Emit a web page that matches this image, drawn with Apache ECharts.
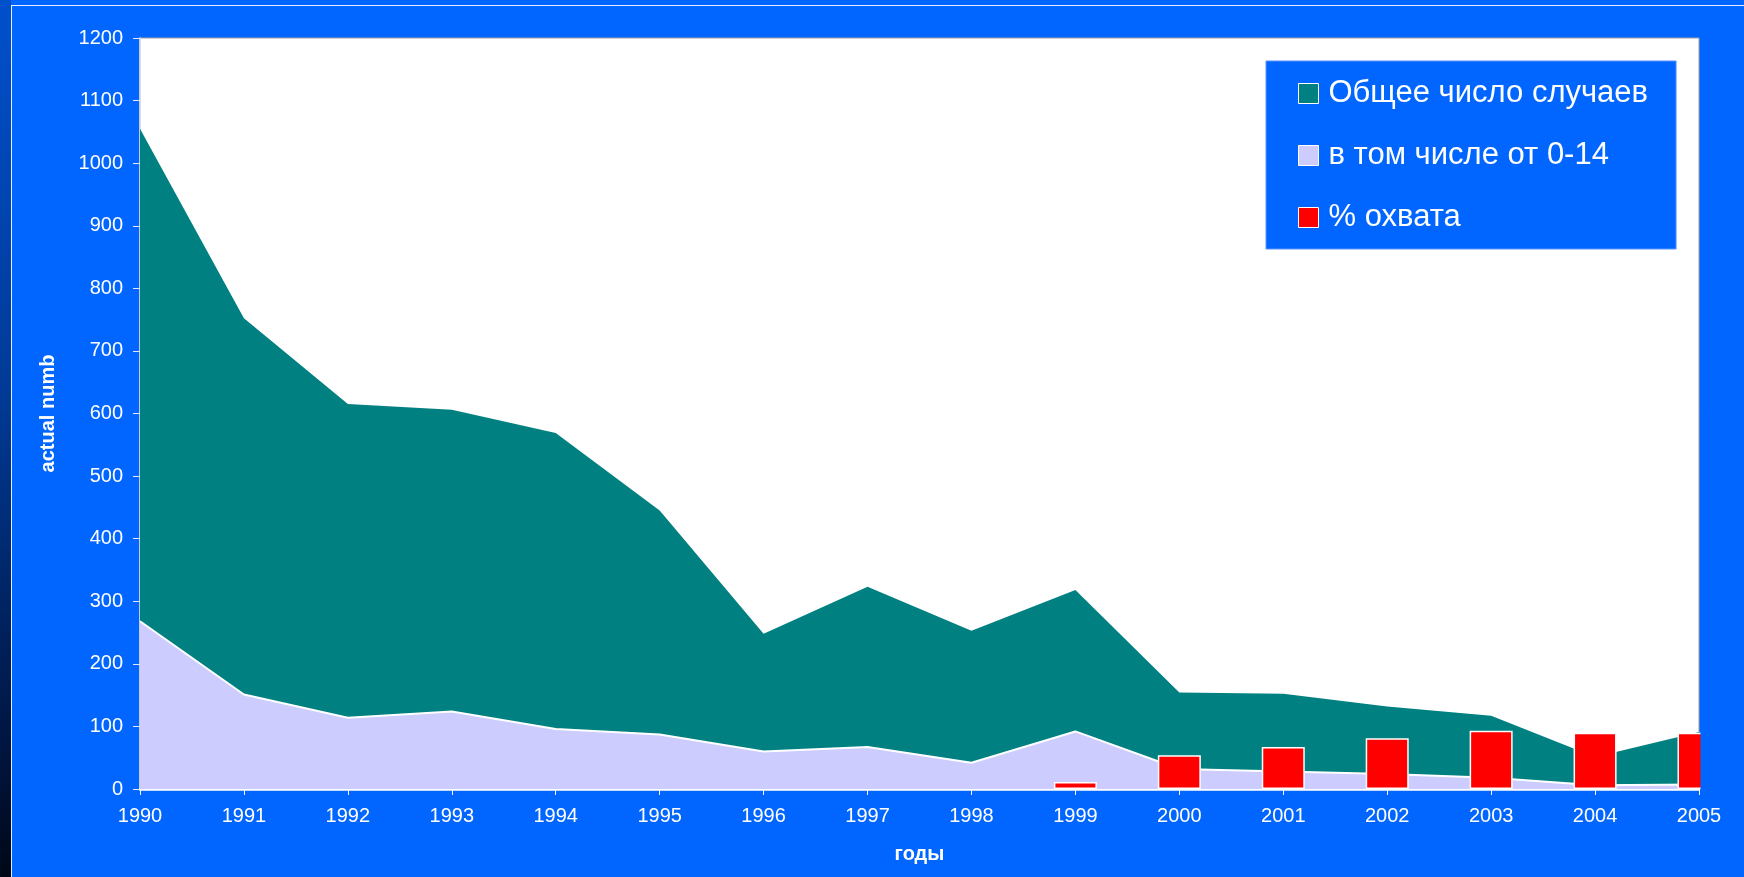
<!DOCTYPE html>
<html>
<head>
<meta charset="utf-8">
<title>Заболеваемость 1990-2005</title>
<script src="https://cdn.jsdelivr.net/npm/echarts/dist/echarts.min.js"></script>
<style>
  html, body { margin: 0; padding: 0; }
  body { width: 1744px; height: 877px; background: #0066ff; position: relative; overflow: hidden; }
  /* тёмная полоса слева, как на слайде */
  #strip { position: absolute; left: 0; top: 0; width: 11px; height: 877px;
    background: linear-gradient(to bottom, #0050cc 0%, #003a96 45%, #001540 85%, #000818 100%); }
  #frame { position: absolute; left: 11px; top: 5px; right: 0; bottom: 0;
    border-left: 1.5px solid #e8eeff; border-top: 1.5px solid #e8eeff; }
  #chart { position: absolute; left: 0; top: 0; width: 1744px; height: 877px; }
</style>
</head>
<body>
<div id="strip"></div>
<div id="frame"></div>
<div id="chart"></div>
<script>
// годы
const years = ['1990', '1991', '1992', '1993', '1994', '1995', '1996', '1997',
  '1998', '1999', '2000', '2001', '2002', '2003', '2004', '2005']
// общее число случаев
const totalCases = [1055, 752, 615, 606, 569, 445, 248, 323, 253, 318, 154, 152, 132, 117, 51, 91]
// в том числе дети 0-14
const children = [268, 151, 114, 124, 96, 87, 60, 67, 42, 92, 32, 28, 24, 18, 6, 7]
// % охвата (до 1999 нет данных)
const coverage = [null, null, null, null, null, null, null, null, null, 11, 54, 67, 81, 93, 90, 90]
const seriesNames = ['Общее число случаев', 'в том числе от 0-14', '% охвата']
const colors = ['#008080', '#ccccff', '#ff0000']

const font = "'Liberation Sans', Arial, sans-serif"

const chart = echarts.init(document.getElementById('chart'))

const option = {
  backgroundColor: 'transparent',
  textStyle: { fontFamily: font },
  animation: false,
  grid: {
    left: 140,
    right: 45,
    top: 38,
    bottom: 88,
    show: true,
    backgroundColor: '#ffffff',
    borderColor: '#a0a0a0',
    borderWidth: 1,
  },
  legend: {
    orient: 'vertical',
    left: 1266,
    top: 61,
    padding: [17, 28, 16, 32],
    backgroundColor: '#0066ff',
    borderColor: '#5d93ff',
    borderWidth: 1,
    itemWidth: 20,
    itemHeight: 20,
    itemGap: 31,
    icon: 'rect',
    textStyle: {
      color: '#ffffff',
      fontSize: 31,
      lineHeight: 30,
      fontFamily: font,
      padding: [0, 0, 0, 5],
    },
    data: seriesNames.map((name, i) => ({
      name: name,
      itemStyle: { color: colors[i], borderColor: '#ffffff', borderWidth: 1 },
    })),
  },
  // полоса справа от области построения, чтобы срезать столбик 2005 года
  graphic: [{
    type: 'rect',
    z: 50,
    shape: { x: 1700.5, y: 30, width: 44, height: 761 },
    style: { fill: '#0066ff' },
  }],
  xAxis: {
    type: 'category',
    data: years,
    boundaryGap: false,
    name: 'годы',
    nameLocation: 'middle',
    nameGap: 55,
    nameTextStyle: { color: '#ffffff', fontWeight: 'bold', fontSize: 20, fontFamily: font },
    axisLine: { lineStyle: { color: '#ffffff', width: 2.5 } },
    axisTick: { show: true, length: 6, lineStyle: { color: '#ffffff' } },
    axisLabel: { color: '#ffffff', fontSize: 20, margin: 17, interval: 0, fontFamily: font },
    splitLine: { show: false },
  },
  yAxis: {
    type: 'value',
    min: 0,
    max: 1200,
    interval: 100,
    name: 'actual number',
    nameLocation: 'middle',
    nameRotate: 90,
    nameGap: 82,
    nameTruncate: { maxWidth: 124, ellipsis: '' },
    nameTextStyle: {
      color: '#ffffff',
      fontWeight: 'bold',
      fontSize: 20,
      fontFamily: font,
    },
    axisLine: { show: true, lineStyle: { color: '#e4e4e4', width: 1.5 } },
    axisTick: { show: true, length: 7, lineStyle: { color: '#dde6ff' } },
    axisLabel: {
      color: '#ffffff',
      fontSize: 20,
      margin: 17,
      fontFamily: font,
      formatter: (v) => String(v),
    },
    splitLine: { show: false },
  },
  series: [
    {
      name: seriesNames[0],
      type: 'line',
      data: totalCases,
      symbol: 'none',
      z: 2,
      itemStyle: { color: colors[0] },
      lineStyle: { color: colors[0], width: 0 },
      areaStyle: { color: colors[0], opacity: 1 },
    },
    {
      name: seriesNames[1],
      type: 'line',
      data: children,
      symbol: 'none',
      z: 3,
      itemStyle: { color: colors[1] },
      lineStyle: { color: '#ffffff', width: 2 },
      areaStyle: { color: colors[1], opacity: 1 },
    },
    {
      name: seriesNames[2],
      type: 'bar',
      data: coverage,
      barWidth: 43,
      z: 10,
      itemStyle: { color: colors[2], borderColor: '#ffffff', borderWidth: 1.5 },
    },
  ],
}

chart.setOption(option)
</script>
</body>
</html>
